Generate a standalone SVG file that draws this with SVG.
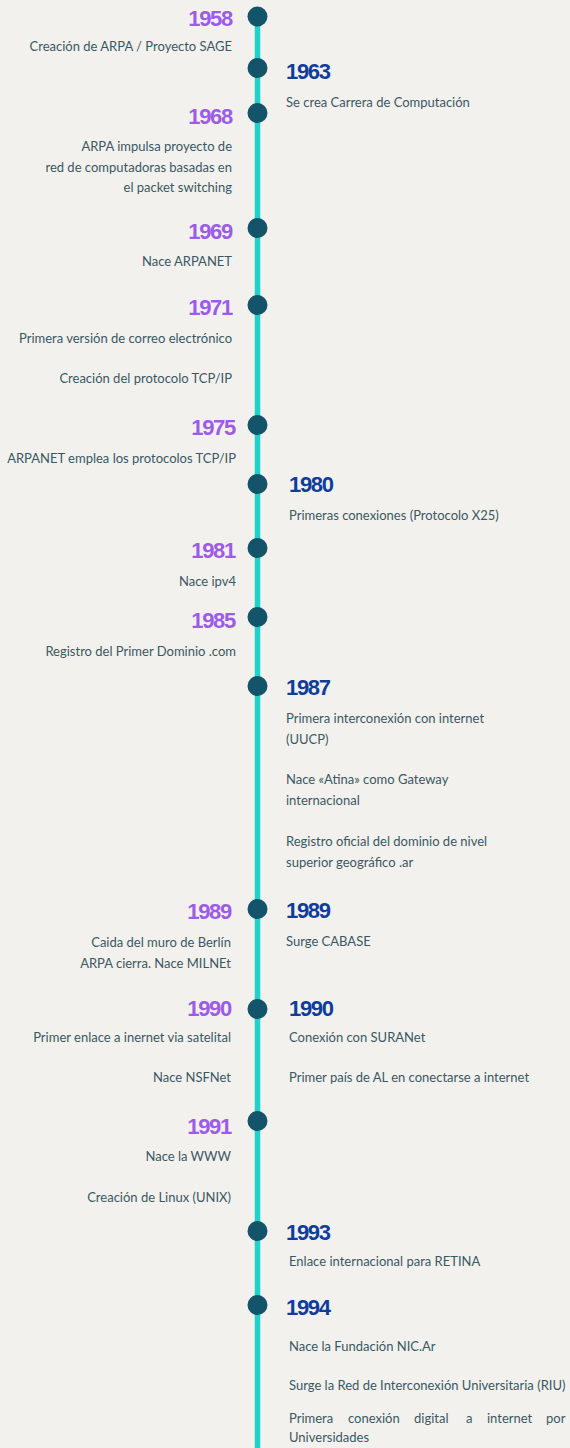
<svg xmlns="http://www.w3.org/2000/svg" width="570" height="1448" viewBox="0 0 570 1448">
<style>
.bg{fill:#f3f1ed}
.line{stroke:#1dd3cb;stroke-width:5.5;fill:none}
.dot{fill:#13546a}
.yl{font-family:"Liberation Sans",Arial,sans-serif;font-weight:bold;font-size:22px;letter-spacing:-1.3px;fill:#9c5ce8;text-anchor:end}
.yr{font-family:"Liberation Sans",Arial,sans-serif;font-weight:bold;font-size:22px;letter-spacing:-1.3px;fill:#0f3d9c}
.tl{font-family:Lato,"Liberation Sans",sans-serif;font-size:13px;fill:#3a5864;text-anchor:end}
.tr{font-family:Lato,"Liberation Sans",sans-serif;font-size:13px;fill:#3a5864}
</style>
<rect class="bg" x="0" y="0" width="570" height="1448"/>
<g id="connectors">
<line class="line" x1="257.5" y1="16" x2="257.5" y2="1448"/>
</g>
<g id="node-1958">
<circle class="dot" cx="257.5" cy="16.5" r="10"/>
<text class="yl" x="232" y="26">1958</text>
<text class="tl" x="232" y="51">Creación de ARPA / Proyecto SAGE</text>
</g>
<g id="node-1963">
<circle class="dot" cx="257.5" cy="68" r="10"/>
<text class="yr" x="286" y="79">1963</text>
<text class="tr" x="286" y="107">Se crea Carrera de Computación</text>
</g>
<g id="node-1968">
<circle class="dot" cx="257.5" cy="113" r="10"/>
<text class="yl" x="232" y="124">1968</text>
<text class="tl" x="232" y="151">ARPA impulsa proyecto de</text>
<text class="tl" x="232" y="172">red de computadoras basadas en</text>
<text class="tl" x="232" y="192">el packet switching</text>
</g>
<g id="node-1969">
<circle class="dot" cx="257.5" cy="228" r="10"/>
<text class="yl" x="232" y="239">1969</text>
<text class="tl" x="232" y="266">Nace ARPANET</text>
</g>
<g id="node-1971">
<circle class="dot" cx="257.5" cy="305" r="10"/>
<text class="yl" x="232" y="315">1971</text>
<text class="tl" x="232" y="343">Primera versión de correo electrónico</text>
<text class="tl" x="232" y="383">Creación del protocolo TCP/IP</text>
</g>
<g id="node-1975">
<circle class="dot" cx="257.5" cy="425" r="10"/>
<text class="yl" x="235" y="435">1975</text>
<text class="tl" x="236" y="463">ARPANET emplea los protocolos TCP/IP</text>
</g>
<g id="node-1980">
<circle class="dot" cx="257.5" cy="484" r="10"/>
<text class="yr" x="289" y="492">1980</text>
<text class="tr" x="289" y="520">Primeras conexiones (Protocolo X25)</text>
</g>
<g id="node-1981">
<circle class="dot" cx="257.5" cy="548" r="10"/>
<text class="yl" x="235" y="558">1981</text>
<text class="tl" x="236" y="586">Nace ipv4</text>
</g>
<g id="node-1985">
<circle class="dot" cx="257.5" cy="617" r="10"/>
<text class="yl" x="235" y="628">1985</text>
<text class="tl" x="236" y="656">Registro del Primer Dominio .com</text>
</g>
<g id="node-1987">
<circle class="dot" cx="257.5" cy="686" r="10"/>
<text class="yr" x="286" y="695">1987</text>
<text class="tr" x="286" y="723">Primera interconexión con internet</text>
<text class="tr" x="286" y="744">(UUCP)</text>
<text class="tr" x="286" y="784">Nace «Atina» como Gateway</text>
<text class="tr" x="286" y="805">internacional</text>
<text class="tr" x="286" y="846">Registro oficial del dominio de nivel</text>
<text class="tr" x="286" y="867">superior geográfico .ar</text>
</g>
<g id="node-1989">
<circle class="dot" cx="257.5" cy="909" r="10"/>
<text class="yl" x="231" y="919">1989</text>
<text class="tl" x="231" y="947">Caida del muro de Berlín</text>
<text class="tl" x="231" y="968">ARPA cierra. Nace MILNEt</text>
<text class="yr" x="286" y="918">1989</text>
<text class="tr" x="286" y="946">Surge CABASE</text>
</g>
<g id="node-1990">
<circle class="dot" cx="257.5" cy="1009" r="10"/>
<text class="yl" x="231" y="1016">1990</text>
<text class="tl" x="231" y="1042">Primer enlace a inernet via satelital</text>
<text class="tl" x="231" y="1082">Nace NSFNet</text>
<text class="yr" x="289" y="1016">1990</text>
<text class="tr" x="289" y="1042">Conexión con SURANet</text>
<text class="tr" x="289" y="1082">Primer país de AL en conectarse a internet</text>
</g>
<g id="node-1991">
<circle class="dot" cx="257.5" cy="1121" r="10"/>
<text class="yl" x="231" y="1134">1991</text>
<text class="tl" x="231" y="1161">Nace la WWW</text>
<text class="tl" x="231" y="1202">Creación de Linux (UNIX)</text>
</g>
<g id="node-1993">
<circle class="dot" cx="257.5" cy="1231" r="10"/>
<text class="yr" x="286" y="1240">1993</text>
<text class="tr" x="289" y="1266">Enlace internacional para RETINA</text>
</g>
<g id="node-1994">
<circle class="dot" cx="257.5" cy="1305" r="10"/>
<text class="yr" x="286" y="1315">1994</text>
<text class="tr" x="289" y="1351">Nace la Fundación NIC.Ar</text>
<text class="tr" x="289" y="1390">Surge la Red de Interconexión Universitaria (RIU)</text>
<text class="tr" y="1423"><tspan x="289">Primera</tspan><tspan x="348">conexión</tspan><tspan x="414">digital</tspan><tspan x="466">a</tspan><tspan x="487">internet</tspan><tspan x="546">por</tspan></text>
<text class="tr" x="289" y="1442">Universidades</text>
</g>
</svg>
